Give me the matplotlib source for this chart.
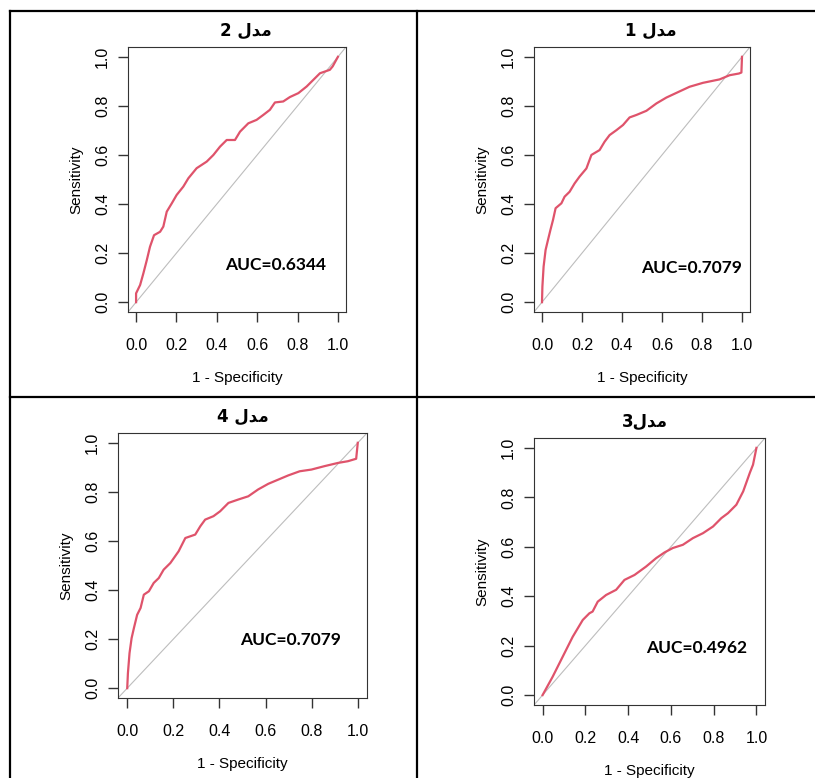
import numpy as np
import matplotlib.pyplot as plt
from matplotlib.lines import Line2D

# ROC curves (1 - specificity, sensitivity)
fpr_m2 = [0, 0, 0.02, 0.036, 0.053, 0.069, 0.089, 0.119, 0.135, 0.152, 0.177, 0.201, 0.234,
          0.259, 0.300, 0.350, 0.383, 0.416, 0.449, 0.490, 0.515, 0.556, 0.597, 0.630, 0.663,
          0.688, 0.729, 0.762, 0.804, 0.845, 0.878, 0.911, 0.960, 0.974, 1.0]
tpr_m2 = [0, 0.036, 0.07, 0.117, 0.171, 0.226, 0.273, 0.287, 0.308, 0.369, 0.403, 0.437, 0.471,
          0.505, 0.546, 0.573, 0.600, 0.634, 0.661, 0.661, 0.695, 0.729, 0.743, 0.763, 0.784,
          0.814, 0.818, 0.836, 0.852, 0.879, 0.906, 0.933, 0.947, 0.961, 1.0]

fpr_m1 = [0, 0.002, 0.008, 0.018, 0.03, 0.042, 0.055, 0.068, 0.097, 0.113, 0.138, 0.163, 0.188,
          0.222, 0.247, 0.288, 0.313, 0.338, 0.372, 0.405, 0.438, 0.472, 0.522, 0.572, 0.622,
          0.672, 0.738, 0.805, 0.888, 0.938, 0.985, 0.997, 1.0]
tpr_m1 = [0, 0.064, 0.145, 0.213, 0.254, 0.294, 0.335, 0.383, 0.403, 0.430, 0.450, 0.484, 0.512,
          0.545, 0.600, 0.620, 0.654, 0.681, 0.701, 0.722, 0.753, 0.763, 0.780, 0.810, 0.834,
          0.853, 0.878, 0.894, 0.908, 0.925, 0.932, 0.936, 1.0]

fpr_m4 = [0, 0.003, 0.01, 0.019, 0.029, 0.043, 0.058, 0.072, 0.094, 0.115, 0.137, 0.158, 0.187,
          0.223, 0.252, 0.295, 0.317, 0.338, 0.374, 0.403, 0.439, 0.482, 0.525, 0.568, 0.612,
          0.655, 0.698, 0.748, 0.799, 0.856, 0.914, 0.957, 0.993, 1.0]
tpr_m4 = [0, 0.061, 0.143, 0.204, 0.245, 0.299, 0.327, 0.381, 0.395, 0.429, 0.449, 0.483, 0.510,
          0.558, 0.612, 0.626, 0.660, 0.687, 0.701, 0.721, 0.755, 0.769, 0.782, 0.810, 0.833,
          0.850, 0.867, 0.884, 0.891, 0.905, 0.918, 0.925, 0.935, 1.0]

fpr_m3 = [0, 0.047, 0.094, 0.141, 0.188, 0.219, 0.234, 0.258, 0.297, 0.344, 0.383, 0.430, 0.484,
          0.531, 0.570, 0.609, 0.656, 0.703, 0.750, 0.797, 0.836, 0.867, 0.906, 0.938, 0.969,
          0.984, 1.0]
tpr_m3 = [0, 0.074, 0.155, 0.236, 0.304, 0.331, 0.338, 0.378, 0.405, 0.426, 0.466, 0.486, 0.520,
          0.554, 0.577, 0.595, 0.608, 0.635, 0.655, 0.682, 0.716, 0.736, 0.770, 0.824, 0.899,
          0.932, 1.0]

# titles: "مدل 2" etc. written in presentation forms so the letters join right-to-left
MODEL = '\uFEDD\uFEAA\uFEE3'
titles = ['2 ' + MODEL, '1 ' + MODEL, '4 ' + MODEL, '3' + MODEL]
auc_labels = ['AUC=0.6344', 'AUC=0.7079', 'AUC=0.7079', 'AUC=0.4962']

curves = [(fpr_m2, tpr_m2), (fpr_m1, tpr_m1), (fpr_m4, tpr_m4), (fpr_m3, tpr_m3)]

W, H = 815, 778
# axes boxes in pixels: left, top, width, height
boxes = [(128, 47, 218, 265), (534, 47, 216, 265), (118, 433, 249, 265), (534, 438, 231, 267)]
auc_pos = [(0.69, 0.15), (0.75, 0.14), (0.71, 0.196), (0.72, 0.19)]
title_x = [0.54, 0.54, 0.5, 0.48]

plt.rcParams['font.family'] = ['Liberation Sans', 'DejaVu Sans']

fig = plt.figure(figsize=(W / 100, H / 100), dpi=100)

for i in range(4):
    l, t, w, h = boxes[i]
    ax = fig.add_axes([l / W, 1 - (t + h) / H, w / W, h / H])
    ax.set_xlim(-0.04, 1.04)
    ax.set_ylim(-0.04, 1.04)
    ax.plot([-0.04, 1.04], [-0.04, 1.04], color='#bdbdbd', lw=0.8)
    fx, ty = curves[i]
    ax.plot(fx, ty, color='#df536b', lw=1.6)
    ticks = np.arange(0, 1.01, 0.2)
    ax.set_xticks(ticks)
    ax.set_yticks(ticks)
    ax.set_xticklabels(['%.1f' % v for v in ticks], fontsize=11.5)
    ax.set_yticklabels(['%.1f' % v for v in ticks], fontsize=11.5, rotation=90, va='center')
    ax.tick_params(direction='out', length=7, width=1, color='#333333')
    ax.tick_params(axis='x', pad=12)
    ax.tick_params(axis='y', pad=6)
    for s in ax.spines.values():
        s.set_color('#333333')
    ax.set_xlabel('1 - Specificity', fontsize=11, labelpad=13)
    ax.set_ylabel('Sensitivity', fontsize=11, labelpad=8)
    ax.set_title(titles[i], fontsize=12, fontweight='bold', family=['DejaVu Sans'], pad=8,
                 x=title_x[i])
    ax.text(auc_pos[i][0], auc_pos[i][1], auc_labels[i], fontsize=12.5, fontweight='bold',
            ha='center', va='center', family=['Lato', 'DejaVu Sans'])

# table borders around the four panels
def border(x0, y0, x1, y1):
    fig.add_artist(Line2D([x0 / W, x1 / W], [1 - y0 / H, 1 - y1 / H], color='black', lw=1.6))

border(10, 11, 815, 11)
border(10, 397, 815, 397)
border(10, 11, 10, 778)
border(417, 11, 417, 778)

fig.savefig('out.png', dpi=100)
